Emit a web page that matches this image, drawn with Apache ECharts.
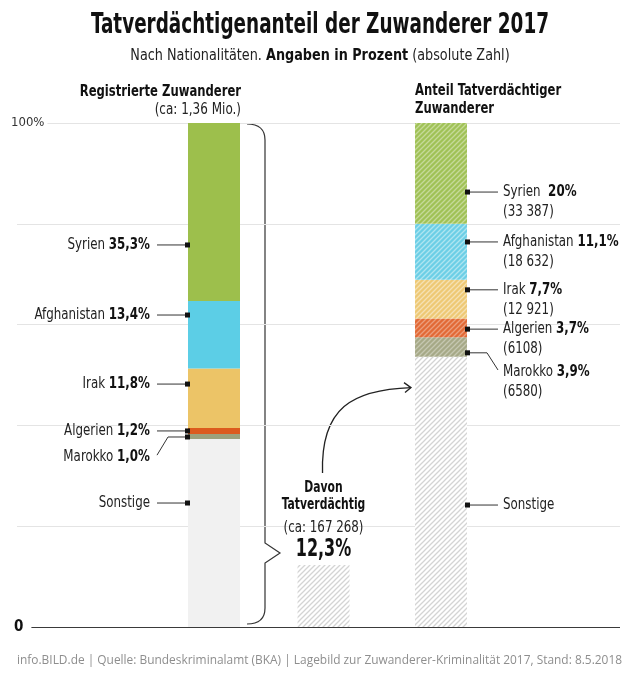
<!DOCTYPE html>
<html><head><meta charset="utf-8">
<script src="https://cdn.jsdelivr.net/npm/echarts@6/dist/echarts.min.js"></script>
<style>html,body{margin:0;padding:0;background:#fff}#c{width:640px;height:674px}</style>
</head><body><div id="c"></div>
<script>
// ---------- DATA ----------
const nationalities = ['Syrien', 'Afghanistan', 'Irak', 'Algerien', 'Marokko', 'Sonstige'];
const registeredShare = [35.3, 13.4, 11.8, 1.2, 1.0, 37.3];   // % of 1,36 Mio. registered
const suspectShare = [20, 11.1, 7.7, 3.7, 3.9, 53.6];           // % of suspects
const suspectCounts = ['33 387', '18 632', '12 921', '6108', '6580', null];
const suspectRate = 12.3;                                        // % of registered who are suspects
const registeredTotal = '(ca: 1,36 Mio.)';
const suspectTotal = '(ca: 167 268)';
const yTicks = { min: 0, max: 100, interval: 20 };

// ---------- LAYOUT / STYLE ----------
const FONT = '"Liberation Sans Narrow", "DejaVu Sans Condensed", "Roboto", sans-serif';
const BAR_W = 52;
const slots = { registered: 0, suspects: 0.965, share: 2 };
const solidColors = ['#9dbf4c', '#5ccee6', '#ecc467', '#dc5b1d', '#9da17a', '#f1f1f1'];
const hatchBase = ['#a0c256', '#6ccfe6', '#eec975', '#e26a36', '#a6a987', '#ffffff'];
const hatchStripe = ['rgba(255,255,255,0.4)', 'rgba(255,255,255,0.45)', 'rgba(255,255,255,0.45)', 'rgba(255,255,255,0.35)', 'rgba(255,255,255,0.35)', '#d4d4d4'];
// label anchor heights (axis units, %)
const leftAnchors = [{ sq: 75.8 }, { sq: 61.9 }, { sq: 48.2 }, { sq: 38.9 }, { sq: 37.7, lab: 33.7 }, { sq: 24.6 }];
const rightAnchors = [{ sq: 86.3 }, { sq: 76.4 }, { sq: 66.9 }, { sq: 59.1 }, { sq: 54.4, lab: 50.6 }, { sq: 24.2 }];
const SX_REG = 0.88, SX_BOLD = 0.8;

function hatch(base, stripe) {
  const s = 5, c = document.createElement('canvas');
  c.width = c.height = s;
  const g = c.getContext('2d');
  g.fillStyle = base; g.fillRect(0, 0, s, s);
  g.strokeStyle = stripe; g.lineWidth = 1.3;
  g.beginPath();
  g.moveTo(0, s); g.lineTo(s, 0);
  g.moveTo(-1, 1); g.lineTo(1, -1);
  g.moveTo(s - 1, s + 1); g.lineTo(s + 1, s - 1);
  g.stroke();
  return { image: c, repeat: 'repeat' };
}
const fmt = (v, d) => v.toFixed(d).replace('.', ',');

const chart = echarts.init(document.getElementById('c'));

// data items are [value, slot]; encode maps slot to x so that stacking runs on the value
const series = [];
for (let i = nationalities.length - 1; i >= 0; i--) {
  series.push({
    type: 'bar', name: nationalities[i], stack: 's', barWidth: BAR_W, silent: true,
    encode: { x: 1, y: 0 },
    data: [
      { value: [registeredShare[i], slots.registered], itemStyle: { color: solidColors[i] } },
      { value: [0, slots.suspects], itemStyle: { color: 'rgba(0,0,0,0)' } },
      { value: [suspectShare[i], slots.share], itemStyle: { color: hatch(hatchBase[i], hatchStripe[i]) } }
    ]
  });
}
series.push({
  type: 'bar', name: 'Davon Tatverdächtig', stack: 's', barWidth: BAR_W, silent: true,
  encode: { x: 1, y: 0 },
  data: [
    { value: [0, slots.registered], itemStyle: { color: 'rgba(0,0,0,0)' } },
    { value: [suspectRate, slots.suspects], itemStyle: { color: hatch('#ffffff', '#d4d4d4') } },
    { value: [0, slots.share], itemStyle: { color: 'rgba(0,0,0,0)' } }
  ]
});

chart.setOption({
  animation: false,
  grid: { left: 17, right: 20, top: 123, bottom: 47 },
  xAxis: {
    type: 'value', min: -1.7357, max: 3.5771, show: false
  },
  yAxis: {
    type: 'value', min: yTicks.min, max: yTicks.max, interval: yTicks.interval, z: 1,
    axisLine: { show: false }, axisTick: { show: false },
    splitLine: { lineStyle: { color: ['#3a3a3a', '#e4e4e4', '#e4e4e4', '#e4e4e4', '#e4e4e4', '#e4e4e4'], width: 1.2 } },
    axisLabel: {
      inside: true, margin: -6,
      formatter: v => v === yTicks.max ? '{p|' + v + '%}' : (v === 0 ? '{z|0}' : ''),
      rich: {
        p: { fontFamily: FONT, fontSize: 13, color: '#333', backgroundColor: '#fff', padding: [2, 3, 2, 0] },
        z: { fontFamily: FONT, fontSize: 15, fontWeight: 'bold', color: '#111', backgroundColor: '#fff', padding: [2, 8, 2, 3] }
      }
    }
  },
  series
});

function measure(text, font) {
  const c = document.createElement('canvas').getContext('2d');
  c.font = font; return c.measureText(text).width;
}

function build() {
  const P = (x, v) => chart.convertToPixel({ gridIndex: 0 }, [x, v]);
  const half = BAR_W / 2;
  const cx1 = P(slots.registered, 0)[0], cx2 = P(slots.suspects, 0)[0], cx3 = P(slots.share, 0)[0];
  const yOf = v => P(slots.registered, v)[1];
  const L1 = cx1 - half, R1 = cx1 + half, L3 = cx3 - half, R3 = cx3 + half;
  const g = [];
  const lineStyle = { stroke: '#333', lineWidth: 1, fill: null };
  const rich = {
    n: { fontFamily: FONT, fontSize: 15, fill: '#222' },
    b: { fontFamily: FONT, fontSize: 15, fontWeight: 'bold', fill: '#111' }
  };
  const txt = (x, y, text, o) => ({
    type: 'text', x, y, scaleX: o.sx || SX_REG, z: 10,
    style: Object.assign({ text, fontFamily: FONT, fontSize: 15, fill: '#222', align: 'left', verticalAlign: 'middle' }, o.style || {})
  });
  const square = (x, y) => ({ type: 'rect', shape: { x: x - 3, y: y - 2.5, width: 5, height: 5 }, style: { fill: '#111' }, z: 10 });

  // title + subtitle
  const titleText = 'Tatverdächtigenanteil der Zuwanderer 2017';
  const titleFont = 'bold 28px ' + FONT;
  const tw = measure(titleText, titleFont);
  g.push({ type: 'text', x: 320, y: 26, scaleX: 458 / tw, style: { text: titleText, font: titleFont, fill: '#111', align: 'center', verticalAlign: 'middle' } });
  g.push(txt(320, 56, '{n|Nach Nationalitäten. }{b|Angaben in Prozent}{n| (absolute Zahl)}', { sx: 0.89, style: { rich: { n: { fontFamily: FONT, fontSize: 16, fill: '#222' }, b: { fontFamily: FONT, fontSize: 16, fontWeight: 'bold', fill: '#111' } }, align: 'center' } }));

  // column headers
  const bold = { fontWeight: 'bold', fill: '#111' };
  g.push(txt(R1 + 1, 92, 'Registrierte Zuwanderer', { sx: 0.86, style: Object.assign({ align: 'right' }, bold) }));
  g.push(txt(R1 + 1, 110, registeredTotal, { sx: 0.89, style: { align: 'right' } }));
  g.push(txt(L3, 91, 'Anteil Tatverdächtiger', { sx: 0.86, style: bold }));
  g.push(txt(L3, 109, 'Zuwanderer', { sx: 0.86, style: bold }));

  // left labels
  nationalities.forEach((n, i) => {
    const a = leftAnchors[i];
    const ys = yOf(a.sq);
    const yl = a.lab != null ? yOf(a.lab) : ys;
    g.push(square(L1, ys));
    if (a.lab != null) {
      g.push({ type: 'polyline', shape: { points: [[L1, ys], [L1 - 20, ys], [L1 - 31, yl - 2]] }, style: lineStyle, z: 9 });
    } else {
      g.push({ type: 'line', shape: { x1: L1 - 31, y1: ys, x2: L1, y2: ys }, style: lineStyle, z: 9 });
    }
    const t = n === 'Sonstige' ? '{n|Sonstige}' : '{n|' + n + ' }{b|' + fmt(registeredShare[i], 1) + '%}';
    g.push(txt(L1 - 38, yl, t, { style: { rich, align: 'right' } }));
  });

  // right labels
  nationalities.forEach((n, i) => {
    const a = rightAnchors[i];
    const ys = yOf(a.sq);
    const yl = a.lab != null ? yOf(a.lab) : ys;
    g.push(square(R3 + 1, ys));
    if (a.lab != null) {
      g.push({ type: 'polyline', shape: { points: [[R3, ys], [R3 + 20, ys], [R3 + 31, yl - 2]] }, style: lineStyle, z: 9 });
    } else {
      g.push({ type: 'line', shape: { x1: R3, y1: ys, x2: R3 + 31, y2: ys }, style: lineStyle, z: 9 });
    }
    const v = suspectShare[i];
    const t = n === 'Sonstige' ? '{n|Sonstige}' : '{n|' + n + (n === 'Syrien' ? '  ' : ' ') + '}{b|' + (Number.isInteger(v) ? String(v) : fmt(v, 1)) + '%}';
    g.push(txt(R3 + 36, yl, t, { style: { rich } }));
    if (suspectCounts[i]) g.push(txt(R3 + 36, yl + 20, '(' + suspectCounts[i] + ')', {}));
  });

  // middle bar texts
  const top2 = P(slots.suspects, suspectRate)[1];
  g.push(txt(cx2, top2 - 15, fmt(suspectRate, 1) + '%', { sx: 0.74, style: { fontSize: 24, fontWeight: 'bold', fill: '#111', align: 'center' } }));
  g.push(txt(cx2, top2 - 37, suspectTotal, { style: { align: 'center' } }));
  g.push(txt(cx2, top2 - 60, 'Tatverdächtig', { sx: SX_BOLD, style: Object.assign({ align: 'center' }, bold) }));
  g.push(txt(cx2, top2 - 77, 'Davon', { sx: SX_BOLD, style: Object.assign({ align: 'center' }, bold) }));

  // brace
  const bt = yOf(100) + 1, bb = yOf(0) - 3, bx0 = R1 + 7, bx1 = R1 + 25, tipY = top2 - 12;
  const braceStyle = { stroke: '#333', lineWidth: 1.2, fill: null };
  g.push({ type: 'bezierCurve', shape: { x1: bx0, y1: bt, cpx1: bx1, cpy1: bt, x2: bx1, y2: bt + 16 }, style: braceStyle });
  g.push({ type: 'polyline', shape: { points: [[bx1, bt + 16], [bx1, tipY - 10], [bx1 + 15, tipY], [bx1, tipY + 10], [bx1, bb - 16]] }, style: braceStyle });
  g.push({ type: 'bezierCurve', shape: { x1: bx1, y1: bb - 16, cpx1: bx1, cpy1: bb, x2: bx0, y2: bb }, style: braceStyle });

  // arrow
  const ax0 = cx2 - 1, ay0 = top2 - 92, ax1 = L3 - 4, ay1 = yOf(47.5);
  g.push({ type: 'bezierCurve', shape: { x1: ax0, y1: ay0, cpx1: ax0 - 2, cpy1: ay1 + 20, cpx2: ax0 + 30, cpy2: ay1 + 2, x2: ax1, y2: ay1 }, style: { stroke: '#222', lineWidth: 1.3, fill: null } });
  g.push({ type: 'polyline', shape: { points: [[ax1 - 7, ay1 - 5], [ax1, ay1], [ax1 - 6, ay1 + 5]] }, style: { stroke: '#222', lineWidth: 1.3, fill: null } });

  // footer
  const foot = 'info.BILD.de | Quelle: Bundeskriminalamt (BKA) | Lagebild zur Zuwanderer-Kriminalität 2017, Stand: 8.5.2018';
  const footFont = '13px "Open Sans", "Liberation Sans", sans-serif';
  const fw = measure(foot, footFont);
  g.push({ type: 'text', x: 17, y: 660, scaleX: 605 / fw, style: { text: foot, font: footFont, fill: '#8e8e8e', align: 'left', verticalAlign: 'middle' } });

  chart.setOption({ graphic: g });
}
build();
</script>
</body></html>
